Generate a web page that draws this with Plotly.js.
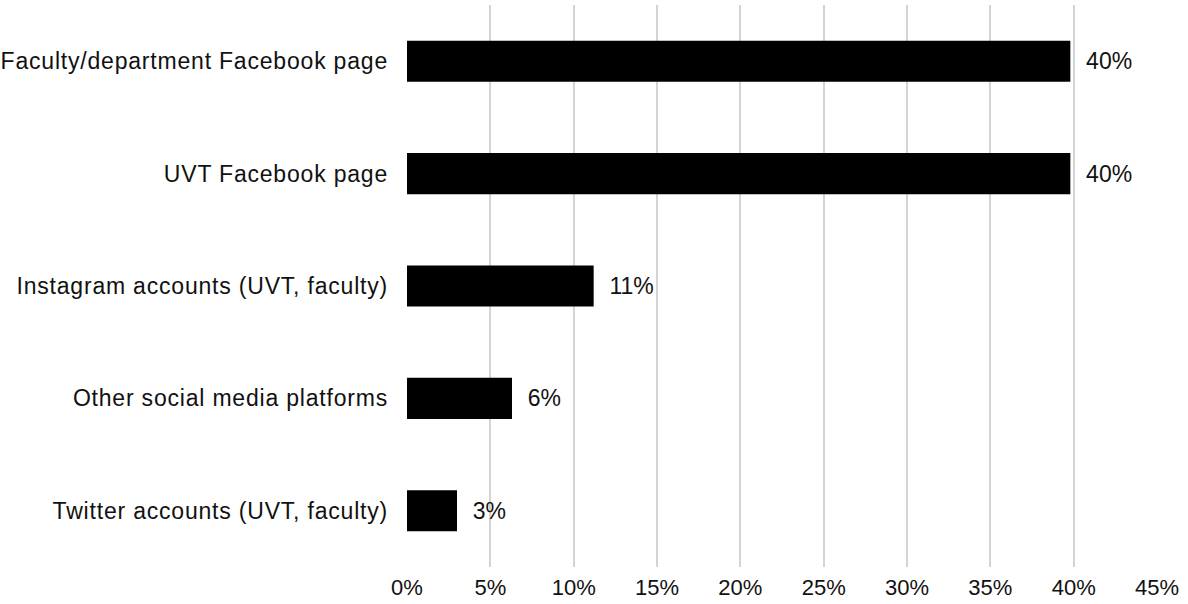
<!DOCTYPE html>
<html>
<head>
<meta charset="utf-8">
<script src="https://cdn.plot.ly/plotly-3.0.1.min.js"></script>
<style>
  html, body { margin: 0; padding: 0; background: #fff; }
  #chart { width: 1188px; height: 604px; }
  /* the source labels are set a little looser than plain Arial */
  #chart .ytick text { letter-spacing: 0.8px; }
</style>
</head>
<body>
<div id="chart"></div>
<script>
// categories listed bottom -> top (plotly draws y categories from the bottom up)
var categories = [
  "Twitter accounts (UVT, faculty)",
  "Other social media platforms",
  "Instagram accounts (UVT, faculty)",
  "UVT Facebook page",
  "Faculty/department Facebook page"
];
var shares = [3.0, 6.3, 11.2, 39.8, 39.8];
var shareLabels = ["3%", "6%", "11%", "40%", "40%"];
var xTicks = [0, 5, 10, 15, 20, 25, 30, 35, 40, 45];

var font = "Liberation Sans, Arial, sans-serif";

var data = [
  {
    type: "bar",
    orientation: "h",
    x: shares,
    y: categories,
    text: shareLabels,
    texttemplate: "  %{text}",
    textposition: "outside",
    cliponaxis: false,
    textfont: { family: font, size: 23, color: "#111" },
    marker: { color: "#000", line: { width: 0 } },
    hoverinfo: "skip"
  }
];

var layout = {
  width: 1188,
  height: 604,
  margin: { l: 407, r: 31, t: 5, b: 37 },
  paper_bgcolor: "#fff",
  plot_bgcolor: "#fff",
  showlegend: false,
  bargap: 0.634,
  font: { family: font, size: 23, color: "#111" },
  xaxis: {
    range: [0, 45],
    tickvals: xTicks,
    ticktext: xTicks.map(function (v) { return v + "%"; }),
    showgrid: true,
    gridcolor: "#d4d4d4",
    gridwidth: 2,
    zeroline: false,
    showline: false,
    ticks: "",
    ticklabelstandoff: 5,
    tickfont: { family: font, size: 22, color: "#111" },
    fixedrange: true
  },
  yaxis: {
    type: "category",
    showgrid: false,
    zeroline: false,
    showline: false,
    ticks: "",
    ticklabelstandoff: 18,
    tickfont: { family: font, size: 23, color: "#111" },
    fixedrange: true
  }
};

Plotly.newPlot("chart", data, layout, { displayModeBar: false, staticPlot: true });
</script>
</body>
</html>
